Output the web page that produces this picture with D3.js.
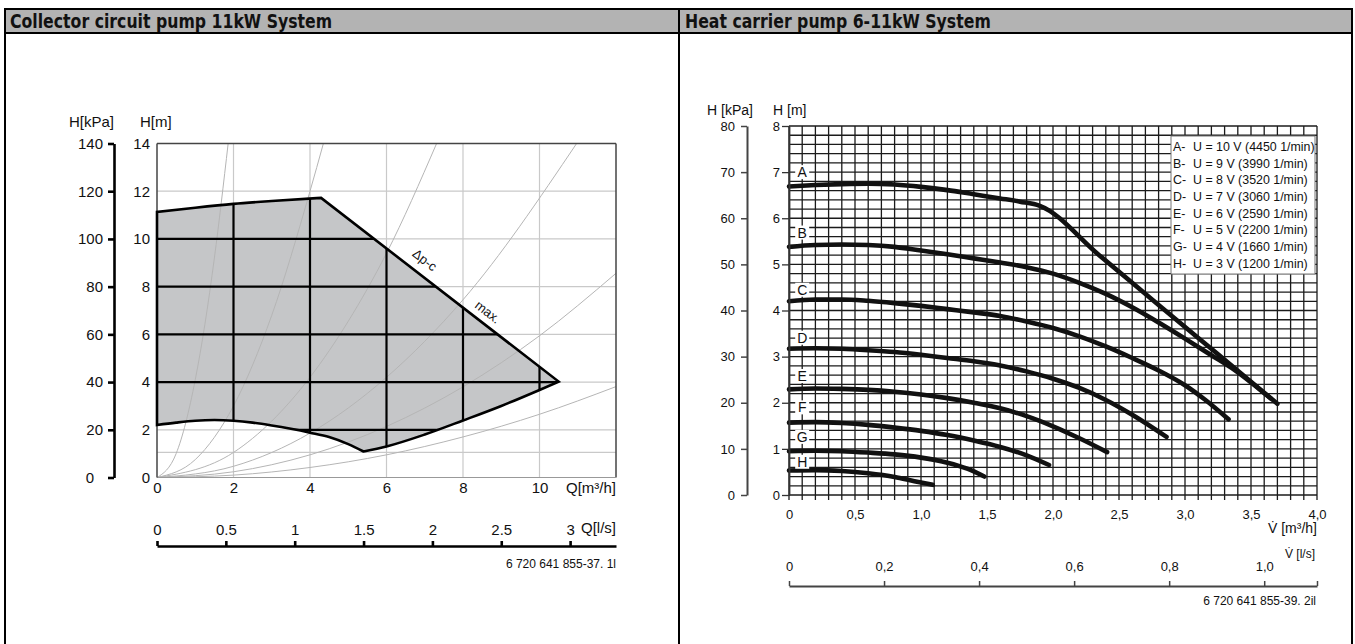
<!DOCTYPE html>
<html><head><meta charset="utf-8">
<script src="https://cdn.jsdelivr.net/npm/d3@7"></script>
<style>
body{margin:0;background:#fff;}
svg{display:block;}
text{font-family:"Liberation Sans",Arial,Helvetica,sans-serif;fill:#111;}
.title{font-family:"Liberation Sans Narrow","DejaVu Sans Condensed","Roboto Condensed",sans-serif;font-weight:bold;font-stretch:condensed;}
</style></head><body>
<svg id="c" width="1355" height="644"></svg>
<script>
// ================= DATA =================
const panelTitles = ["Collector circuit pump 11kW System", "Heat carrier pump 6-11kW System"];

// ---- left chart: collector circuit pump ----
const lQTicks   = [0, 2, 4, 6, 8, 10];
const lHTicks   = [0, 2, 4, 6, 8, 10, 12, 14];
const lKpaTicks = [0, 20, 40, 60, 80, 100, 120, 140];
const lLsTicks  = [0, 0.5, 1, 1.5, 2, 2.5, 3];
const lGridQ    = [2, 4, 6, 8, 10];
const lGridH    = [1.05, 2, 4, 6, 8, 10, 12];
const lLeftEdge    = [[0, 2.2], [0, 11.13]];
const lTopCurve    = [[0, 11.13], [1, 11.31], [2, 11.47], [3, 11.59], [4.29, 11.72]];
const lMaxLine     = [[4.29, 11.72], [10.5, 4.02]];
const lBottomRight = [[10.5, 4.02], [10, 3.67], [9, 3.0], [8, 2.39], [7, 1.8], [6, 1.3], [5.4, 1.09]];
const lBottomLeft  = [[5.4, 1.09], [5, 1.4], [4.5, 1.7], [4, 1.88], [3.5, 2.04], [3, 2.18], [2.5, 2.3], [2, 2.38], [1.5, 2.41], [1, 2.38], [0.5, 2.3], [0, 2.2]];
const lSystemCurves = [
  [[0, 0], [0.5, 1.0], [1, 4.1], [1.25, 6.4], [1.5, 9.2], [1.86, 14]],
  [[0, 0], [1, 0.75], [2, 3.0], [3, 6.8], [4, 12.0], [4.35, 14]],
  [[0, 0], [2, 1.05], [4, 4.2], [5, 6.55], [6, 9.4], [7.31, 14]],
  [[0, 0], [2, 0.47], [4, 1.86], [6, 4.2], [8, 7.45], [10.97, 14]],
  [[0, 0], [2, 0.24], [4, 0.95], [6, 2.14], [8, 3.8], [10, 5.94], [12, 8.56]],
  [[0, 0], [2, 0.1], [4, 0.42], [6, 0.95], [8, 1.7], [10, 2.65], [12, 3.81]]
];
const lCurveLabels = [{t: "\u0394p-c", q: 7.0, h: 9.12}, {t: "max.", q: 8.65, h: 6.94}];
const lCode = "6 720 641 855-37. 1l";

// ---- right chart: heat carrier pump ----
const rQTicks   = [0, 0.5, 1, 1.5, 2, 2.5, 3, 3.5, 4];
const rHTicks   = [0, 1, 2, 3, 4, 5, 6, 7, 8];
const rKpaTicks = [0, 10, 20, 30, 40, 50, 60, 70, 80];
const rLsTicks  = [0, 0.2, 0.4, 0.6, 0.8, 1.0];
const curveNames = ["A", "B", "C", "D", "E", "F", "G", "H"];
const legendTexts = [
  "U = 10 V (4450 1/min)", "U = 9 V (3990 1/min)", "U = 8 V (3520 1/min)", "U = 7 V (3060 1/min)",
  "U = 6 V (2590 1/min)", "U = 5 V (2200 1/min)", "U = 4 V (1660 1/min)", "U = 3 V (1200 1/min)"
];
const curveA = [[0, 6.69], [0.2, 6.72], [0.4, 6.74], [0.6, 6.75], [0.8, 6.73], [1.0, 6.68], [1.2, 6.61], [1.4, 6.52], [1.6, 6.43], [1.75, 6.36], [1.9, 6.27], [2.35, 5.2], [2.8, 4.12], [3.25, 3.05], [3.7, 1.98]];
const curveB = [[0, 5.38], [0.2, 5.42], [0.4, 5.43], [0.6, 5.42], [0.8, 5.38], [1.0, 5.3], [1.2, 5.22], [1.4, 5.13], [1.6, 5.04], [1.8, 4.94], [2.0, 4.8], [2.2, 4.6], [2.4, 4.36], [2.6, 4.07], [2.8, 3.74], [3.0, 3.39], [3.2, 3.03], [3.35, 2.76], [3.5, 2.44], [3.65, 2.09]];
const curveC = [[0, 4.2], [0.2, 4.24], [0.4, 4.24], [0.6, 4.21], [0.8, 4.16], [1.0, 4.1], [1.2, 4.03], [1.4, 3.96], [1.6, 3.88], [1.8, 3.76], [2.0, 3.62], [2.2, 3.44], [2.4, 3.22], [2.6, 2.97], [2.8, 2.7], [3.0, 2.38], [3.15, 2.07], [3.33, 1.64]];
const curveD = [[0, 3.17], [0.2, 3.18], [0.4, 3.17], [0.6, 3.14], [0.8, 3.1], [1.0, 3.04], [1.2, 2.97], [1.4, 2.9], [1.6, 2.81], [1.8, 2.68], [2.0, 2.52], [2.2, 2.32], [2.4, 2.06], [2.6, 1.74], [2.86, 1.26]];
const curveE = [[0, 2.29], [0.2, 2.31], [0.4, 2.3], [0.6, 2.28], [0.8, 2.24], [1.0, 2.18], [1.2, 2.1], [1.4, 2.0], [1.6, 1.88], [1.8, 1.71], [2.0, 1.49], [2.2, 1.23], [2.41, 0.93]];
const curveF = [[0, 1.57], [0.2, 1.58], [0.4, 1.56], [0.6, 1.52], [0.8, 1.46], [1.0, 1.39], [1.2, 1.3], [1.4, 1.18], [1.6, 1.04], [1.8, 0.86], [1.97, 0.65]];
const curveG = [[0, 0.95], [0.2, 0.96], [0.4, 0.95], [0.6, 0.92], [0.8, 0.88], [1.0, 0.81], [1.2, 0.7], [1.35, 0.57], [1.48, 0.4]];
const curveH = [[0, 0.53], [0.2, 0.54], [0.4, 0.52], [0.6, 0.47], [0.8, 0.39], [0.95, 0.3], [1.09, 0.22]];
const rCurves = [curveA, curveB, curveC, curveD, curveE, curveF, curveG, curveH];
const rLabelH = [7.0, 5.69, 4.45, 3.41, 2.58, 1.9, 1.26, 0.72];
const rLabelQ = 0.1;
const rCode = "6 720 641 855-39. 2il";

// ================= DRAW =================
const svg = d3.select("#c");

// panels
const frame = svg.append("g");
frame.append("rect").attr("x", 5).attr("y", 9).attr("width", 1347).attr("height", 24).attr("fill", "#b3b3b3");
frame.append("line").attr("x1", 5).attr("x2", 1352).attr("y1", 9).attr("y2", 9).attr("stroke", "#000").attr("stroke-width", 2);
frame.append("line").attr("x1", 5).attr("x2", 1352).attr("y1", 33).attr("y2", 33).attr("stroke", "#000").attr("stroke-width", 2);
[5, 679, 1352].forEach(x => frame.append("line").attr("x1", x).attr("x2", x).attr("y1", 8).attr("y2", 644).attr("stroke", "#000").attr("stroke-width", 2));
frame.append("text").attr("class", "title").attr("transform", "translate(10,28) scale(0.92,1)").attr("font-size", 19).text(panelTitles[0]);
frame.append("text").attr("class", "title").attr("transform", "translate(685,28) scale(0.92,1)").attr("font-size", 19).text(panelTitles[1]);

// ---------- LEFT ----------
const lx = d3.scaleLinear().domain([0, 12]).range([157, 616]);
const ly = d3.scaleLinear().domain([0, 14]).range([477.5, 143.5]);
const lLs = d3.scaleLinear().domain([0, 12 / 3.6]).range([157, 616]);
const L = svg.append("g");

function lline(curve) { return d3.line().x(d => lx(d[0])).y(d => ly(d[1])).curve(curve); }
const regionPath =
  lline(d3.curveLinear)(lLeftEdge) +
  lline(d3.curveMonotoneX)(lTopCurve).replace(/^M/, "L") +
  lline(d3.curveLinear)(lMaxLine).replace(/^M/, "L") +
  lline(d3.curveMonotoneX)(lBottomRight).replace(/^M/, "L") +
  lline(d3.curveMonotoneX)(lBottomLeft).replace(/^M/, "L") + "Z";

svg.append("defs").append("clipPath").attr("id", "regionClip").append("path").attr("d", regionPath);
svg.select("defs").append("clipPath").attr("id", "lPlotClip").append("rect")
  .attr("x", lx(0)).attr("y", ly(14)).attr("width", lx(12) - lx(0)).attr("height", ly(0) - ly(14));

// gray grid
const lGridG = L.append("g");
lGridQ.forEach(q => lGridG.append("line").attr("x1", lx(q)).attr("x2", lx(q)).attr("y1", ly(0)).attr("y2", ly(14)).attr("stroke", "#c9c9c9").attr("stroke-width", 1.2));
lGridH.concat([14]).forEach(h => lGridG.append("line").attr("x1", lx(0)).attr("x2", lx(12)).attr("y1", ly(h)).attr("y2", ly(h)).attr("stroke", "#c9c9c9").attr("stroke-width", 1.2));

// region fill
L.append("path").attr("d", regionPath).attr("fill", "#c5c6c8");

// system curves
const sysG = L.append("g").attr("clip-path", "url(#lPlotClip)");
lSystemCurves.forEach(c => sysG.append("path").attr("d", lline(d3.curveMonotoneX)(c)).attr("fill", "none").attr("stroke", "#b5b5b5").attr("stroke-width", 1));

// black grid inside region
const bg = L.append("g").attr("clip-path", "url(#regionClip)");
lGridQ.forEach(q => bg.append("line").attr("x1", lx(q)).attr("x2", lx(q)).attr("y1", ly(0)).attr("y2", ly(14)).attr("stroke", "#000").attr("stroke-width", 2.2));
lGridH.filter(h => h >= 2).forEach(h => bg.append("line").attr("x1", lx(0)).attr("x2", lx(12)).attr("y1", ly(h)).attr("y2", ly(h)).attr("stroke", "#000").attr("stroke-width", 2.2));

// plot frame
L.append("line").attr("x1", lx(0)).attr("x2", lx(12)).attr("y1", ly(14)).attr("y2", ly(14)).attr("stroke", "#444").attr("stroke-width", 1.5);
L.append("line").attr("x1", lx(12)).attr("x2", lx(12)).attr("y1", ly(14)).attr("y2", ly(0)).attr("stroke", "#444").attr("stroke-width", 1.5);
L.append("line").attr("x1", lx(0)).attr("x2", lx(12)).attr("y1", ly(0)).attr("y2", ly(0)).attr("stroke", "#999").attr("stroke-width", 1.2);
L.append("line").attr("x1", lx(0)).attr("x2", lx(0)).attr("y1", ly(14)).attr("y2", ly(0)).attr("stroke", "#444").attr("stroke-width", 1.5);

// region outline
L.append("path").attr("d", regionPath).attr("fill", "none").attr("stroke", "#000").attr("stroke-width", 2.6).attr("stroke-linejoin", "miter");

// curve labels
lCurveLabels.forEach(l => {
  L.append("text").attr("transform", `translate(${lx(l.q)},${ly(l.h)}) rotate(37.7)`)
    .attr("text-anchor", "middle").attr("dy", "0.35em").attr("font-size", 13).text(l.t);
});

// axes
const kpaScaleL = d3.scaleLinear().domain([0, 140]).range([477.5, 143.5]);
const aK = L.append("g").attr("transform", "translate(114,0)")
  .call(d3.axisLeft(kpaScaleL).tickValues(lKpaTicks).tickSize(6).tickSizeOuter(0).tickPadding(5));
aK.select(".domain").attr("stroke", "#000").attr("stroke-width", 2.6);
aK.selectAll(".tick line").attr("stroke", "#000").attr("stroke-width", 2.6);
aK.selectAll("text").attr("font-size", 15).attr("font-family", null).attr("fill", "#111");
aK.selectAll(".tick").filter(d => d === 0).select("text").attr("text-anchor", "middle").attr("x", -24);

const aH = L.append("g").attr("transform", `translate(${lx(0)},0)`)
  .call(d3.axisLeft(ly).tickValues(lHTicks).tickSize(0).tickPadding(7));
aH.select(".domain").remove();
aH.selectAll("text").attr("font-size", 15).attr("font-family", null).attr("fill", "#111");

const aQ = L.append("g").attr("transform", `translate(0,${ly(0)})`)
  .call(d3.axisBottom(lx).tickValues(lQTicks).tickSize(0).tickPadding(5));
aQ.select(".domain").remove();
aQ.selectAll("text").attr("font-size", 15).attr("font-family", null).attr("fill", "#111");

const aLs = L.append("g").attr("transform", "translate(0,546)")
  .call(d3.axisTop(lLs).tickValues(lLsTicks).tickSize(5).tickSizeOuter(0).tickPadding(6).tickFormat(d3.format("")));
aLs.select(".domain").attr("stroke", "#000").attr("stroke-width", 2.6);
aLs.selectAll(".tick line").attr("stroke", "#000").attr("stroke-width", 2.6);
aLs.selectAll("text").attr("font-size", 15).attr("font-family", null).attr("fill", "#111");

L.append("text").attr("x", 69).attr("y", 127).attr("font-size", 15).text("H[kPa]");
L.append("text").attr("x", 140).attr("y", 127).attr("font-size", 15).text("H[m]");
L.append("text").attr("x", lx(12)).attr("y", 493).attr("text-anchor", "end").attr("font-size", 15).text("Q[m\u00B3/h]");
L.append("text").attr("x", lx(12)).attr("y", 533).attr("text-anchor", "end").attr("font-size", 15).text("Q[l/s]");
L.append("text").attr("x", lx(12)).attr("y", 568).attr("text-anchor", "end").attr("font-size", 12).text(lCode);

// ---------- RIGHT ----------
const rx = d3.scaleLinear().domain([0, 4]).range([789, 1317]);
const ry = d3.scaleLinear().domain([0, 8]).range([495, 126]);
const rLs = d3.scaleLinear().domain([0, 4 / 3.6]).range([789, 1317]);
const R = svg.append("g");

const gridG = R.append("g");
d3.range(0, 41).forEach(i => {
  const q = i / 10;
  gridG.append("line").attr("x1", rx(q)).attr("x2", rx(q)).attr("y1", ry(8)).attr("y2", ry(0) + 5)
    .attr("stroke", "#1b1b1b").attr("stroke-width", 1.3);
});
d3.range(0, 41).forEach(i => {
  const h = i / 5;
  gridG.append("line").attr("x1", rx(0)).attr("x2", rx(4)).attr("y1", ry(h)).attr("y2", ry(h))
    .attr("stroke", "#1b1b1b").attr("stroke-width", 1.3);
});

// legend box
const lgX = 1171, lgY = 136, lgW = 144, lgH = 138;
R.append("rect").attr("x", lgX).attr("y", lgY).attr("width", lgW).attr("height", lgH)
  .attr("fill", "#fff").attr("stroke", "#777").attr("stroke-width", 1);
curveNames.forEach((n, i) => {
  const y = lgY + 10.5 + i * 16.7;
  R.append("text").attr("x", lgX + 2).attr("y", y).attr("dy", "0.35em").attr("font-size", 12.4).text(n + "-");
  R.append("text").attr("x", lgX + 22).attr("y", y).attr("dy", "0.35em").attr("font-size", 12.4).text(legendTexts[i]);
});

// curves
const rline = d3.line().x(d => rx(d[0])).y(d => ry(d[1])).curve(d3.curveMonotoneX);
rCurves.forEach(c => R.append("path").attr("d", rline(c)).attr("fill", "none")
  .attr("stroke", "#111").attr("stroke-width", 4.6).attr("stroke-linecap", "round").attr("stroke-linejoin", "round"));

// curve letters
curveNames.forEach((n, i) => {
  R.append("rect").attr("x", rx(rLabelQ) - 7).attr("y", ry(rLabelH[i]) - 7).attr("width", 14).attr("height", 14).attr("fill", "#fff");
  R.append("text").attr("x", rx(rLabelQ)).attr("y", ry(rLabelH[i])).attr("dy", "0.36em")
    .attr("text-anchor", "middle").attr("font-size", 14).text(n);
});

// axes
const fmtC = d => d === 0 ? "0" : d3.format(".1f")(d).replace(".", ",");
const aRH = R.append("g").attr("transform", `translate(${rx(0)},0)`)
  .call(d3.axisLeft(ry).tickValues(rHTicks).tickSize(7).tickSizeOuter(0).tickPadding(2));
aRH.select(".domain").attr("stroke", "#333").attr("stroke-width", 1.8);
aRH.selectAll(".tick line").attr("stroke", "#333").attr("stroke-width", 1.3);
aRH.selectAll("text").attr("font-size", 13).attr("font-family", null).attr("fill", "#222");

const kpaScaleR = d3.scaleLinear().domain([0, 80]).range([495, 126]);
const aRK = R.append("g").attr("transform", "translate(747,0)")
  .call(d3.axisLeft(kpaScaleR).tickValues(rKpaTicks).tickSize(6).tickSizeOuter(0).tickPadding(6));
aRK.select(".domain").attr("stroke", "#444").attr("stroke-width", 2);
aRK.selectAll(".tick line").attr("stroke", "#444").attr("stroke-width", 1.5);
aRK.selectAll("text").attr("font-size", 13).attr("font-family", null).attr("fill", "#222");

const aRQ = R.append("g").attr("transform", `translate(0,${ry(0)})`)
  .call(d3.axisBottom(rx).tickValues(rQTicks).tickSize(0).tickPadding(15).tickFormat(fmtC));
aRQ.select(".domain").remove();
aRQ.selectAll("text").attr("font-size", 13).attr("font-family", null).attr("fill", "#222");

const aRL = R.append("g").attr("transform", "translate(0,586)")
  .call(d3.axisTop(rLs).tickValues(rLsTicks.concat([4 / 3.6])).tickSize(5).tickSizeOuter(0).tickPadding(10)
    .tickFormat(d => rLsTicks.includes(d) ? fmtC(d) : ""));
aRL.select(".domain").attr("stroke", "#444").attr("stroke-width", 2);
aRL.selectAll(".tick line").attr("stroke", "#444").attr("stroke-width", 1.5);
aRL.selectAll("text").attr("font-size", 13).attr("font-family", null).attr("fill", "#222");

R.append("text").attr("x", 707).attr("y", 115).attr("font-size", 14).text("H [kPa]");
R.append("text").attr("x", 773).attr("y", 115).attr("font-size", 14).text("H [m]");
R.append("text").attr("x", rx(4)).attr("y", 533).attr("text-anchor", "end").attr("font-size", 14).text("V\u0307 [m\u00B3/h]");
R.append("text").attr("x", 1315).attr("y", 558).attr("text-anchor", "end").attr("font-size", 12).text("V\u0307 [l/s]");
R.append("text").attr("x", 1316).attr("y", 605).attr("text-anchor", "end").attr("font-size", 12).text(rCode);
</script>
</body></html>
